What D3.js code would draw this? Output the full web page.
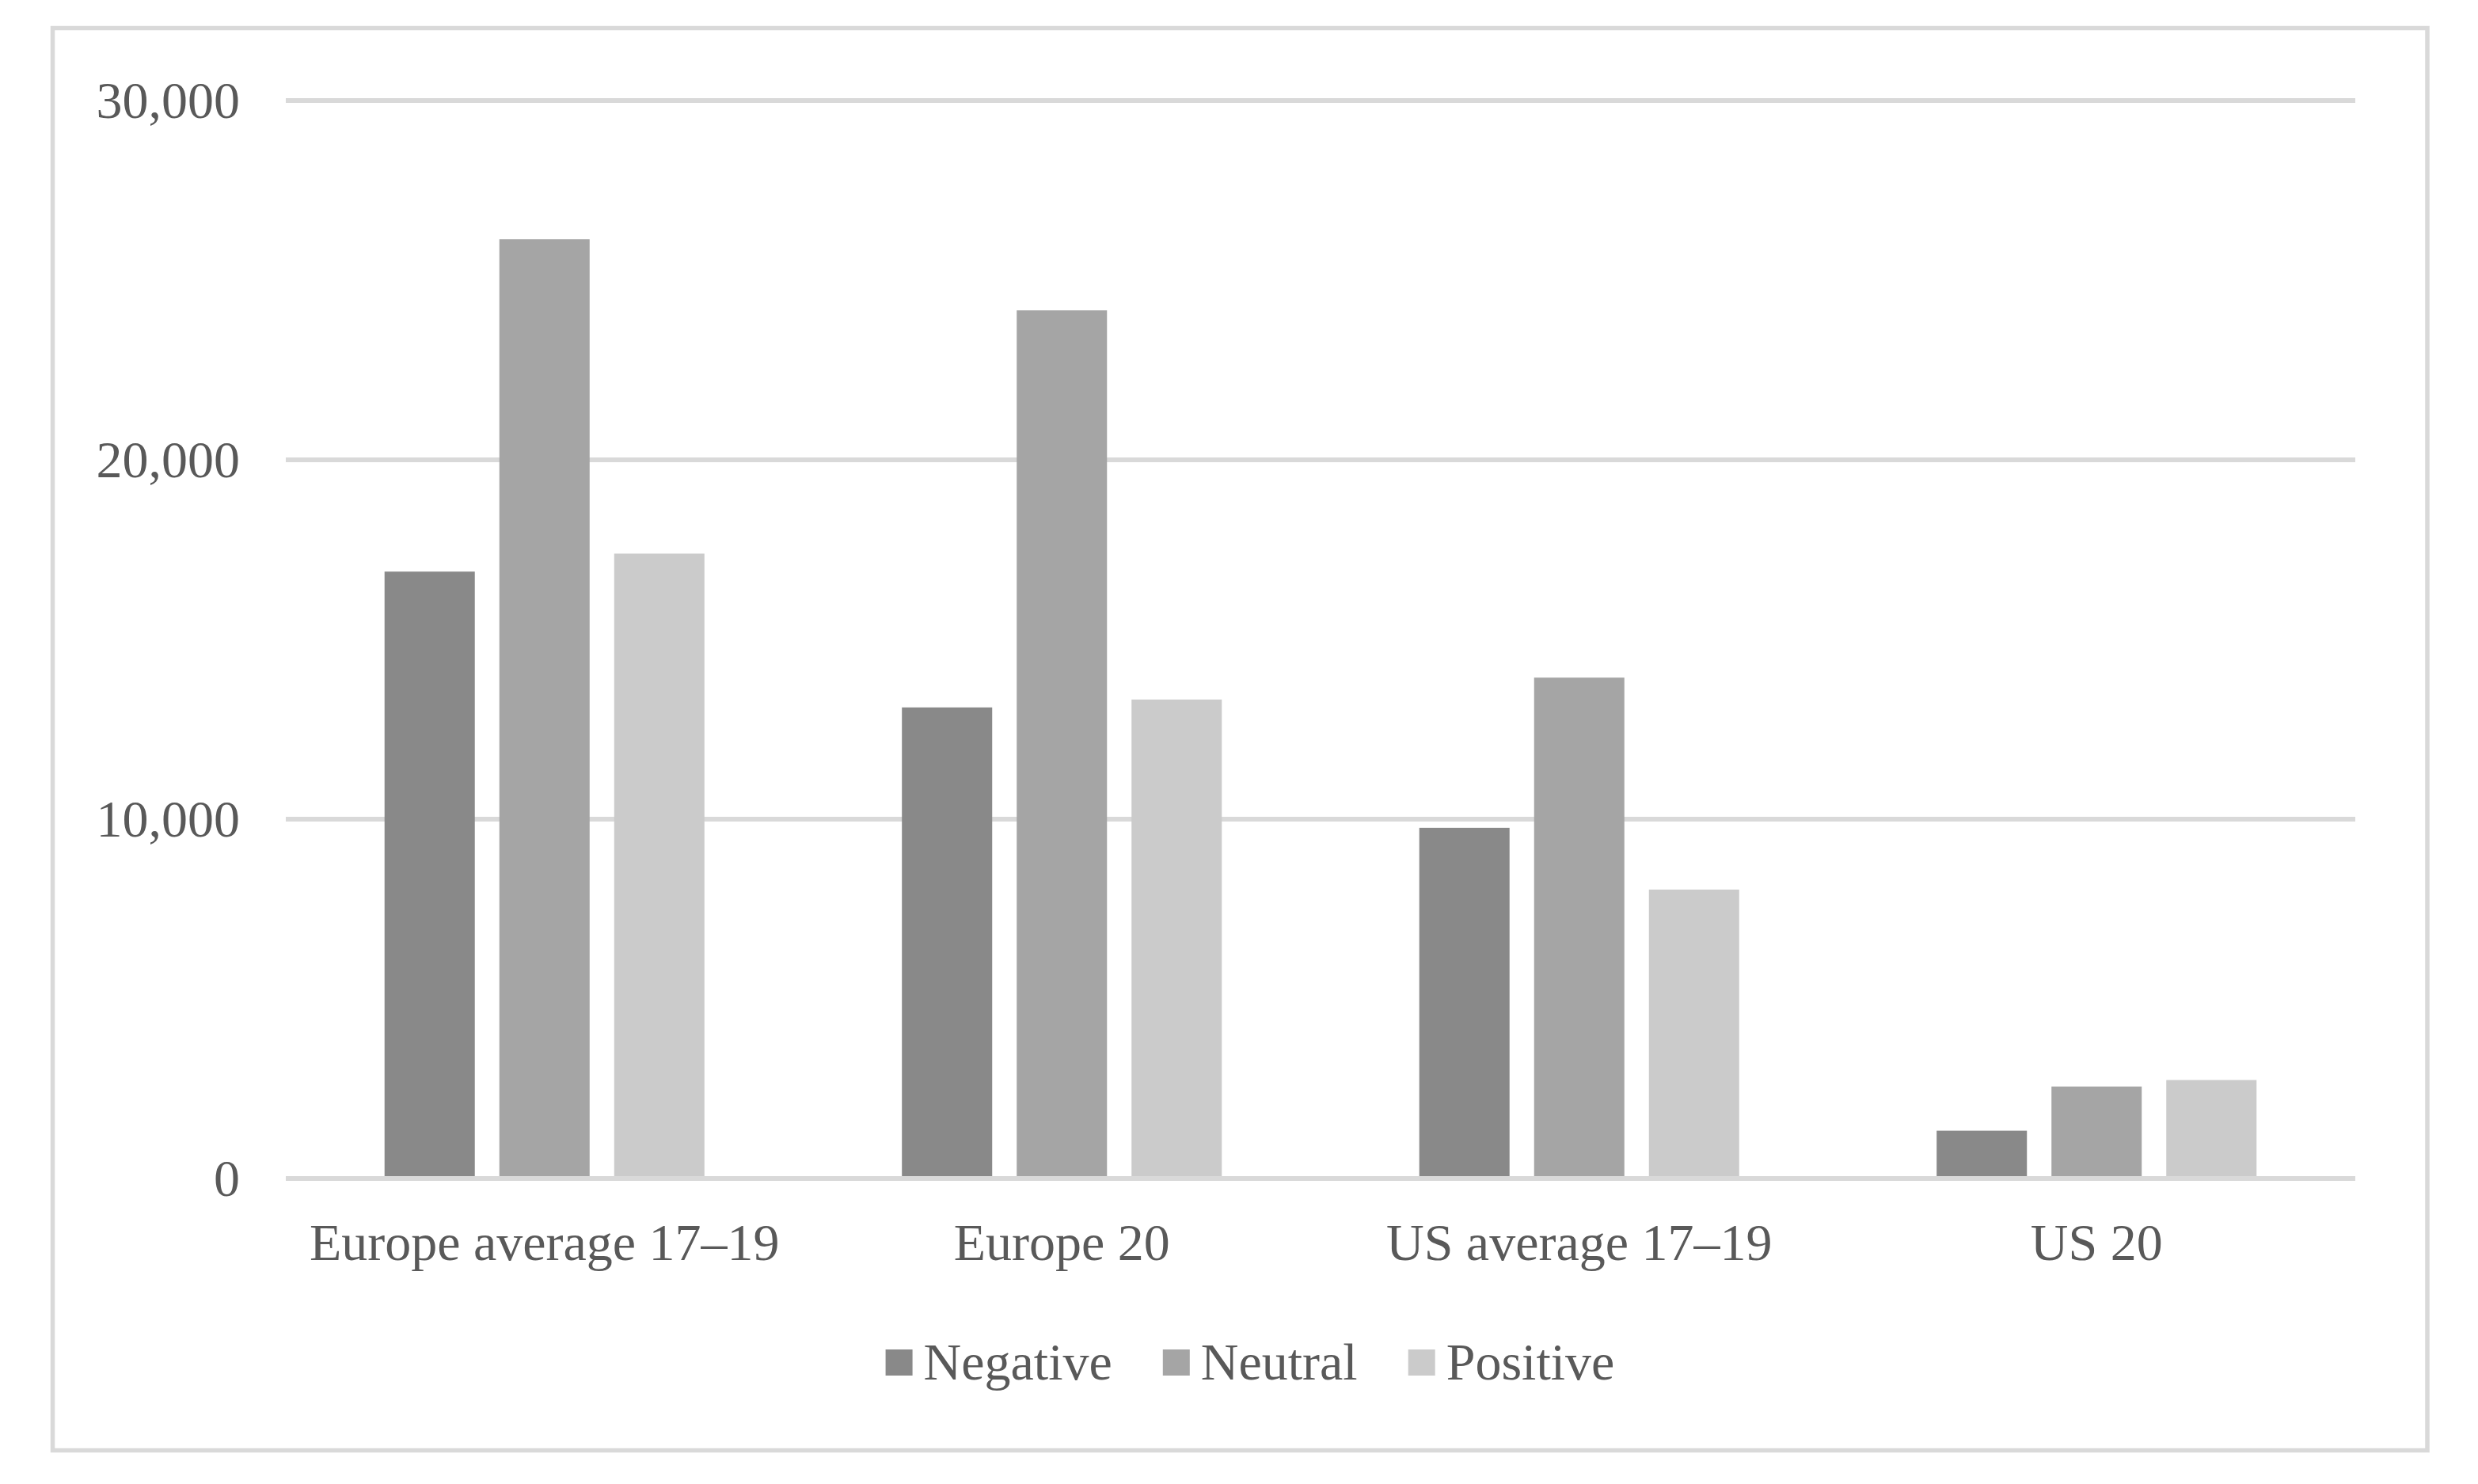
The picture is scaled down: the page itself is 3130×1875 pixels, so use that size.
<!DOCTYPE html>
<html>
<head>
<meta charset="utf-8">
<script src="https://cdn.jsdelivr.net/npm/d3@7"></script>
<style>
  body { margin: 0; background: #fff; }
  text { font-family: 'Liberation Serif', 'Times New Roman', serif; fill: #595959; }
</style>
</head>
<body>
<div id="chart"></div>
<script>
const categories = ['Europe average 17\u201319', 'Europe 20', 'US average 17\u201319', 'US 20']
const series = ['Negative', 'Neutral', 'Positive']
const negative = [16890, 13110, 9760, 1330]
const neutral = [26140, 24160, 13940, 2560]
const positive = [17390, 13330, 8040, 2740]
const yTicks = [0, 10000, 20000, 30000]

const colors = ['#898989', '#a5a5a5', '#cbcbcb']

const width = 3130
const height = 1875
const margin = { top: 127, left: 361, right: 155, bottom: 386 }

const svg = d3
  .select('#chart')
  .append('svg')
  .attr('width', width)
  .attr('height', height)

svg
  .append('rect')
  .attr('width', width)
  .attr('height', height)
  .attr('fill', '#fff')

// outer frame
svg
  .append('rect')
  .attr('x', 66.5)
  .attr('y', 35.5)
  .attr('width', 3066 - 66.5)
  .attr('height', 1832.5 - 35.5)
  .attr('fill', 'none')
  .attr('stroke', '#d9d9d9')
  .attr('stroke-width', 5.5)

const plotW = width - margin.left - margin.right
const plotH = height - margin.top - margin.bottom

const g = svg
  .append('g')
  .attr('transform', 'translate(' + margin.left + ',' + margin.top + ')')

const data = categories.map((c, i) => ({
  category: c,
  values: [negative[i], neutral[i], positive[i]]
}))

const x0 = d3
  .scaleBand()
  .domain(categories)
  .range([0, plotW])

const x1 = d3
  .scaleBand()
  .domain(series)
  .range([0, x0.bandwidth()])
  .paddingInner(0.2138)
  .paddingOuter(0.86)

const y = d3
  .scaleLinear()
  .domain([0, 30000])
  .range([plotH, 0])

// gridlines
g.selectAll('.grid')
  .data(yTicks)
  .enter()
  .append('line')
  .attr('class', 'grid')
  .attr('x1', 0)
  .attr('x2', plotW)
  .attr('y1', d => y(d))
  .attr('y2', d => y(d))
  .attr('stroke', '#d9d9d9')
  .attr('stroke-width', 6)

// y labels
g.selectAll('.y-label')
  .data(yTicks)
  .enter()
  .append('text')
  .attr('class', 'y-label')
  .attr('x', -58)
  .attr('y', d => y(d) + 22)
  .attr('text-anchor', 'end')
  .attr('font-size', 66)
  .text(d => d3.format(',')(d))

// bars
const groups = g
  .selectAll('.group')
  .data(data)
  .enter()
  .append('g')
  .attr('class', 'group')
  .attr('transform', d => 'translate(' + x0(d.category) + ',0)')

groups
  .selectAll('rect')
  .data(d => d.values.map((v, i) => ({ key: series[i], value: v, i: i })))
  .enter()
  .append('rect')
  .attr('x', d => x1(d.key))
  .attr('width', x1.bandwidth())
  .attr('y', d => y(d.value))
  .attr('height', d => y(0) - y(d.value) - 3)
  .attr('fill', d => colors[d.i])

// x labels
g.selectAll('.x-label')
  .data(categories)
  .enter()
  .append('text')
  .attr('class', 'x-label')
  .attr('x', d => x0(d) + x0.bandwidth() / 2)
  .attr('y', plotH + 103)
  .attr('text-anchor', 'middle')
  .attr('font-size', 66)
  .text(d => d)

// legend
const legend = svg.append('g')
const items = legend
  .selectAll('.legend-item')
  .data(series)
  .enter()
  .append('g')
  .attr('class', 'legend-item')

items
  .append('rect')
  .attr('width', 34)
  .attr('height', 33)
  .attr('y', 1705)
  .attr('fill', (d, i) => colors[i])

items
  .append('text')
  .attr('x', 48)
  .attr('y', 1743)
  .attr('font-size', 66)
  .text(d => d)

let offset = 0
const positions = []
items.each(function() {
  const w = d3.select(this).select('text').node().getComputedTextLength()
  positions.push(offset)
  offset += 48 + w + 64
})
const totalW = offset - 64
const startX = 1579 - totalW / 2
items.attr('transform', (d, i) => 'translate(' + (startX + positions[i]) + ',0)')
</script>
</body>
</html>
